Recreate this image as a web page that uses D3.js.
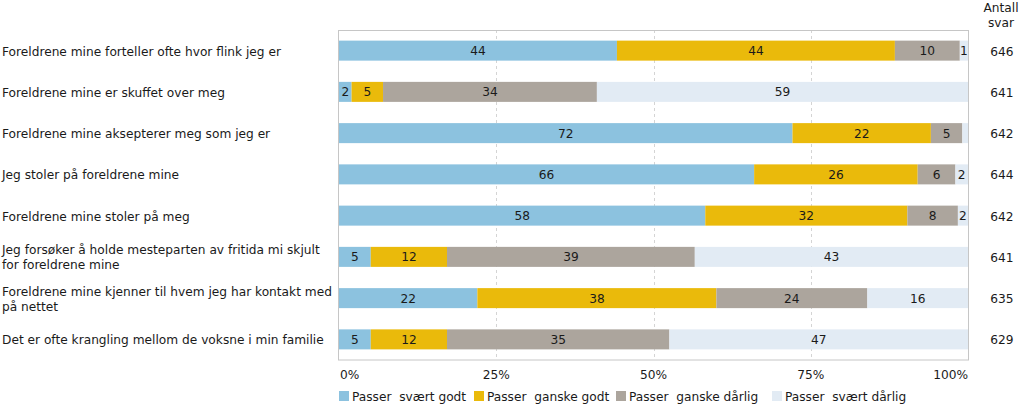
<!DOCTYPE html>
<html><head><meta charset="utf-8">
<script src="https://cdn.jsdelivr.net/npm/d3@7"></script>
<style>
body{margin:0;background:#fff;}
text{font-family:"DejaVu Sans",Verdana,sans-serif;fill:#1a1a1a;}
</style></head>
<body><svg id="c" width="1023" height="406"></svg>
<script>
const categories = [
  ["Foreldrene mine forteller ofte hvor flink jeg er"],
  ["Foreldrene mine er skuffet over meg"],
  ["Foreldrene mine aksepterer meg som jeg er"],
  ["Jeg stoler på foreldrene mine"],
  ["Foreldrene mine stoler på meg"],
  ["Jeg forsøker å holde mesteparten av fritida mi skjult", "for foreldrene mine"],
  ["Foreldrene mine kjenner til hvem jeg har kontakt med", "på nettet"],
  ["Det er ofte krangling mellom de voksne i min familie"]
];
const seriesNames = ["Passer  svært godt", "Passer  ganske godt", "Passer  ganske dårlig", "Passer  svært dårlig"];
const sveartGodt   = [44.1, 2, 72.1, 66, 58, 5, 22, 5];
const ganskeGodt   = [44.1, 5, 22.0, 26, 32, 12, 38, 12];
const ganskeDarlig = [10.3, 34, 5.0, 6, 8, 39, 24, 35];
const sveartDarlig = [1.3, 59, 0.9, 2, 1.6, 43, 16, 47];
const antallSvar = [646, 641, 642, 644, 642, 641, 635, 629];
const tickValues = [0, 0.25, 0.5, 0.75, 1];
const tickLabels = ["0%", "25%", "50%", "75%", "100%"];
const colors = ["#8cc2df", "#eaba0b", "#aca59d", "#e2ebf4"];

const series = [sveartGodt, ganskeGodt, ganskeDarlig, sveartDarlig];
const rows = categories.map((c, i) => {
  const o = {i};
  series.forEach((s, k) => o["s" + k] = s[i]);
  return o;
});
const keys = ["s0", "s1", "s2", "s3"];
const stacked = d3.stack().keys(keys).offset(d3.stackOffsetExpand)(rows);

const svg = d3.select("#c");
const x = d3.scaleLinear().domain([0, 1]).range([339, 968]);
const y = d3.scaleBand().domain(d3.range(categories.length)).range([30, 360]).paddingInner(0.515).paddingOuter(0.2575);
const FS = 12.2;

// gridlines
svg.append("g").selectAll("line").data([0.25, 0.5, 0.75]).join("line")
  .attr("x1", d => Math.round(x(d)) + 0.5).attr("x2", d => Math.round(x(d)) + 0.5)
  .attr("y1", 30).attr("y2", 360)
  .attr("stroke", "#d4d4d4").attr("stroke-dasharray", "3,3");

// frame
svg.append("rect").attr("x", 338.5).attr("y", 30.5).attr("width", 630).attr("height", 329.5)
  .attr("fill", "none").attr("stroke", "#c6c6c6");

// bars
const g = svg.append("g");
stacked.forEach((layer, k) => {
  g.append("g").selectAll("rect").data(layer).join("rect")
    .attr("x", d => x(d[0])).attr("width", d => x(d[1]) - x(d[0]))
    .attr("y", (d, i) => y(i)).attr("height", y.bandwidth())
    .attr("fill", colors[k]);
  g.append("g").selectAll("text").data(layer.filter(d => d.data["s" + k] >= 1)).join("text")
    .attr("x", d => (x(d[0]) + x(d[1])) / 2)
    .attr("y", d => y(d.data.i) + y.bandwidth() / 2)
    .attr("dy", "0.36em").attr("text-anchor", "middle")
    .attr("font-size", FS)
    .text(d => Math.round(d.data["s" + k]));
});

// category labels
const cl = svg.append("g");
categories.forEach((lines, i) => {
  const cy = y(i) + y.bandwidth() / 2 + 0.5;
  const t = cl.append("text").attr("x", 2).attr("font-size", FS);
  lines.forEach((ln, j) => {
    t.append("tspan").attr("x", 2)
      .attr("y", cy + (j - (lines.length - 1) / 2) * 15)
      .attr("dy", "0.36em").text(ln);
  });
});

// antall svar
svg.append("text").attr("x", 1001).attr("y", 12).attr("text-anchor", "middle").attr("font-size", FS).text("Antall");
svg.append("text").attr("x", 1001).attr("y", 27).attr("text-anchor", "middle").attr("font-size", FS).text("svar");
svg.append("g").selectAll("text").data(antallSvar).join("text")
  .attr("x", 1002).attr("y", (d, i) => y(i) + y.bandwidth() / 2 + 0.5).attr("dy", "0.36em")
  .attr("text-anchor", "middle").attr("font-size", FS).text(d => d);

// x axis tick labels
svg.append("g").selectAll("text").data(tickValues).join("text")
  .attr("x", (d, i) => i === 0 ? x(d) + 1 : x(d))
  .attr("y", 379)
  .attr("text-anchor", (d, i) => i === 0 ? "start" : (i === tickValues.length - 1 ? "end" : "middle"))
  .attr("font-size", FS).text((d, i) => tickLabels[i]);

// legend
const legX = [339, 474, 616, 772];
const lg = svg.append("g");
seriesNames.forEach((n, k) => {
  lg.append("rect").attr("x", legX[k]).attr("y", 391).attr("width", 10).attr("height", 10).attr("fill", colors[k]);
  lg.append("text").attr("x", legX[k] + 13).attr("y", 400.5).attr("font-size", FS)
    .style("white-space", "pre").text(n);
});
</script></body></html>
